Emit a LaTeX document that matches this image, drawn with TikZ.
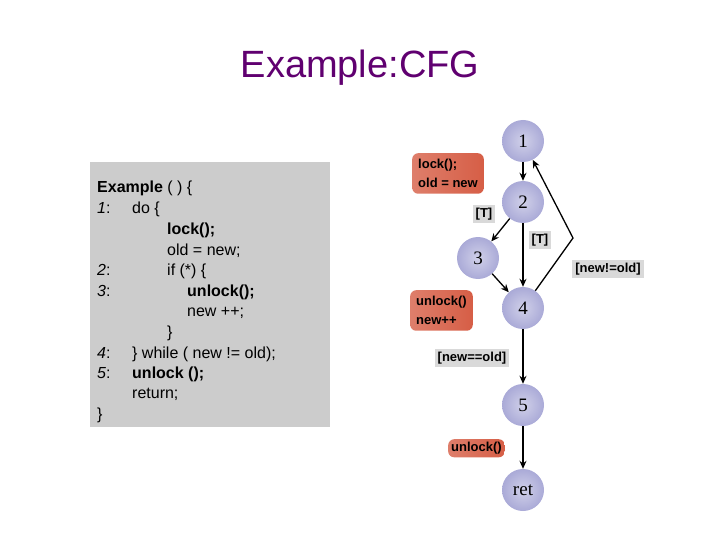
\documentclass[tikz,border=0pt]{standalone}
\usepackage{fontspec}
\setmainfont{Liberation Sans}
\newfontfamily\serifnum{Liberation Serif}
\usetikzlibrary{arrows.meta,shadows}
\definecolor{titlec}{RGB}{96,0,112}
\definecolor{nodec}{RGB}{170,170,215}
\definecolor{boxc}{RGB}{214,94,70}
\tikzset{
 cfg/.style={circle,minimum size=42pt,inner sep=0pt,inner color=nodec!55,outer color=nodec,font=\serifnum\fontsize{19}{19}\selectfont},
 actbox/.style={rounded corners=6pt,left color=boxc!80,right color=boxc,anchor=north west,font=\bfseries\fontsize{13}{19}\selectfont,align=left,inner sep=6pt},
 lbl/.style={fill=black!15,font=\bfseries\fontsize{13}{13}\selectfont,inner sep=3pt},
 edge/.style={-{Stealth[length=8pt,width=7pt]},line width=1.3pt},
 code/.style={anchor=base west,font=\fontsize{16}{16}\selectfont,inner sep=0pt},
}
\begin{document}
\begin{tikzpicture}[x=1pt,y=-1pt]
\useasboundingbox (0,0) rectangle (720,540);
\node[font=\fontsize{38}{38}\selectfont,text=titlec] (title) at (360,68) {Example:CFG};
\fill[black!20] (90,162) rectangle (330,427);
\node[code] (c0) at (97,193) {\textbf{Example} ( ) \{};
\node[code] (c1a) at (97,214) {\textit{1}:};
\node[code] (c1) at (132,214) {do \{};
\node[code] (c2) at (167,234) {\textbf{lock();}};
\node[code] (c3) at (167,255) {old = new;};
\node[code] (c4a) at (97,275) {\textit{2}:};
\node[code] (c4) at (167,275) {if (*) \{};
\node[code] (c5a) at (97,296) {\textit{3}:};
\node[code] (c5) at (187,296) {\textbf{unlock();}};
\node[code] (c6) at (187,316) {new ++;};
\node[code] (c7) at (167,337) {\}};
\node[code] (c8a) at (97,358) {\textit{4}:};
\node[code] (c8) at (132,358) {\} while ( new != old);};
\node[code] (c9a) at (97,378) {\textit{5}:};
\node[code] (c9) at (132,378) {\textbf{unlock ();}};
\node[code] (c10) at (132,398) {return;};
\node[code] (c11) at (97,419) {\}};
\node[cfg] (n1) at (523,141) {1};
\node[cfg] (n2) at (523,202) {2};
\node[cfg] (n3) at (478,258) {3};
\node[cfg] (n4) at (523,308) {4};
\node[cfg] (n5) at (523,405) {5};
\node[cfg] (nr) at (523,490) {ret};
\coordinate (bk) at (573,238);
\draw[edge] (n1) -- (n2);
\draw[edge] (n2) -- (n3);
\draw[edge] (n2) -- (n4);
\draw[edge] (n3) -- (n4);
\draw[edge] (n4) -- (bk) -- (n1);
\draw[edge] (n4) -- (n5);
\draw[edge] (n5) -- (nr);
\node[actbox] (b1) at (412,153) {lock();\\old = new};
\node[actbox] (b2) at (410,290) {unlock()\\new++};
\node[actbox,inner sep=3pt] (b3) at (448,439) {unlock()};
\node[lbl] (l1) at (484,214) {[T]};
\node[lbl] (l2) at (540,240) {[T]};
\node[lbl] (l3) at (608,269) {[new!=old]};
\node[lbl] (l4) at (472,358) {[new==old]};
\end{tikzpicture}
\end{document}
